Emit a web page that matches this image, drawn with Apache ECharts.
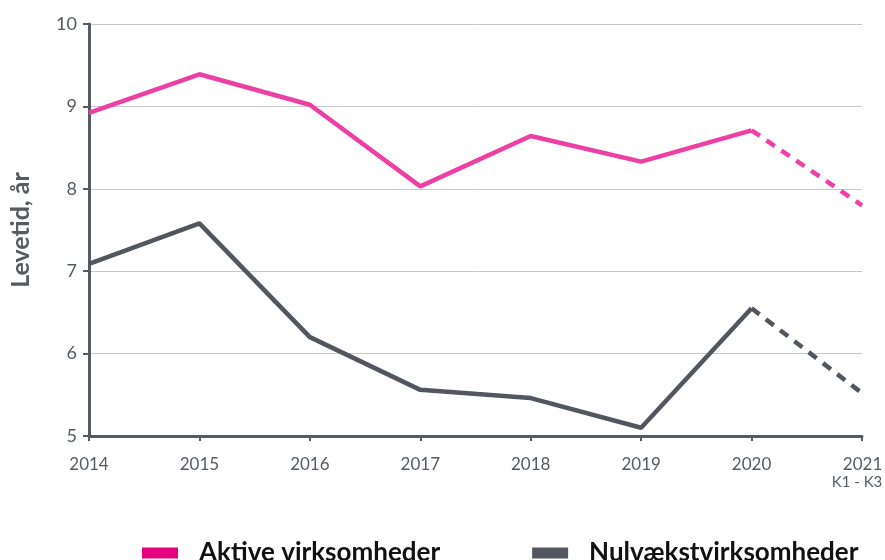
<!DOCTYPE html>
<html>
<head>
<meta charset="utf-8">
<script src="https://cdn.jsdelivr.net/npm/echarts@6/dist/echarts.min.js"></script>
<style>
  html, body { margin: 0; padding: 0; background: #fff; }
  #chart { width: 885px; height: 560px; }
</style>
</head>
<body>
<div id="chart"></div>
<script>
// data
const years = ['2014', '2015', '2016', '2017', '2018', '2019', '2020', '2021'];
const aktive = [8.92, 9.39, 9.02, 8.03, 8.64, 8.33, 8.71, 7.80];
const nulvaekst = [7.09, 7.58, 6.20, 5.56, 5.46, 5.10, 6.55, 5.52];
const seriesNames = ['Aktive virksomheder', 'Nulvækstvirksomheder'];
const yTicks = [5, 6, 7, 8, 9, 10];

const pink = '#ee3fa4';
const grey = '#51565f';
const axisColor = '#555b63';

// solid up to 2020, dashed for the last (partial) year
const solidPart = arr => arr.map((v, i) => i <= 6 ? v : '-');
const dashPart = arr => arr.map((v, i) => i >= 6 ? v : '-');

const chart = echarts.init(document.getElementById('chart'));

const lineSeries = (name, data, color, dashed) => ({
  name: name,
  type: 'line',
  data: data,
  symbol: 'none',
  lineStyle: { color: color, width: 4.5, type: dashed ? [10, 8] : 'solid', cap: 'butt' },
  itemStyle: { color: name === seriesNames[0] ? '#e6007e' : grey },
  z: dashed ? 2 : 3
});

chart.setOption({
  animation: false,
  textStyle: { fontFamily: 'Lato' },
  grid: { left: 89, right: 23, top: 24, bottom: 124, containLabel: false, outerBoundsMode: 'none' },
  legend: {
    data: seriesNames,
    left: 137,
    top: 535,
    icon: 'rect',
    itemWidth: 36,
    itemHeight: 11,
    itemGap: 92,
    textStyle: { fontSize: 26, fontWeight: 'bold', color: '#111', padding: [0, 0, 0, 16] }
  },
  xAxis: {
    type: 'category',
    data: years,
    boundaryGap: false,
    axisLine: { lineStyle: { color: axisColor, width: 3 } },
    axisTick: { alignWithLabel: true, length: 5, lineStyle: { color: axisColor, width: 2 } },
    axisLabel: {
      color: axisColor,
      fontSize: 17,
      margin: 20,
      interval: 0,
      formatter: (v, i) => i === years.length - 1 ? '{a|' + v + '}\n{b|K1 - K3}' : v,
      rich: {
        a: { fontSize: 17, color: axisColor, align: 'right', fontFamily: 'Lato', padding: [0, 10, 0, 0] },
        b: { fontSize: 15, color: axisColor, align: 'right', fontFamily: 'Lato', padding: [2, 10, 0, 0] }
      }
    }
  },
  yAxis: {
    type: 'value',
    min: yTicks[0],
    max: yTicks[yTicks.length - 1],
    interval: 1,
    name: 'Levetid, år',
    nameLocation: 'middle',
    nameGap: 56,
    nameTextStyle: { fontSize: 25, fontWeight: 'bold', color: axisColor },
    axisLine: { show: true, lineStyle: { color: axisColor, width: 3 } },
    axisTick: { show: true, length: 6, lineStyle: { color: axisColor, width: 2 } },
    axisLabel: { color: axisColor, fontSize: 18, margin: 12 },
    splitLine: { lineStyle: { color: '#c8c8c8', width: 1 } }
  },
  series: [
    lineSeries(seriesNames[0], solidPart(aktive), pink, false),
    lineSeries(seriesNames[0], dashPart(aktive), pink, true),
    lineSeries(seriesNames[1], solidPart(nulvaekst), grey, false),
    lineSeries(seriesNames[1], dashPart(nulvaekst), grey, true)
  ]
});
</script>
</body>
</html>
